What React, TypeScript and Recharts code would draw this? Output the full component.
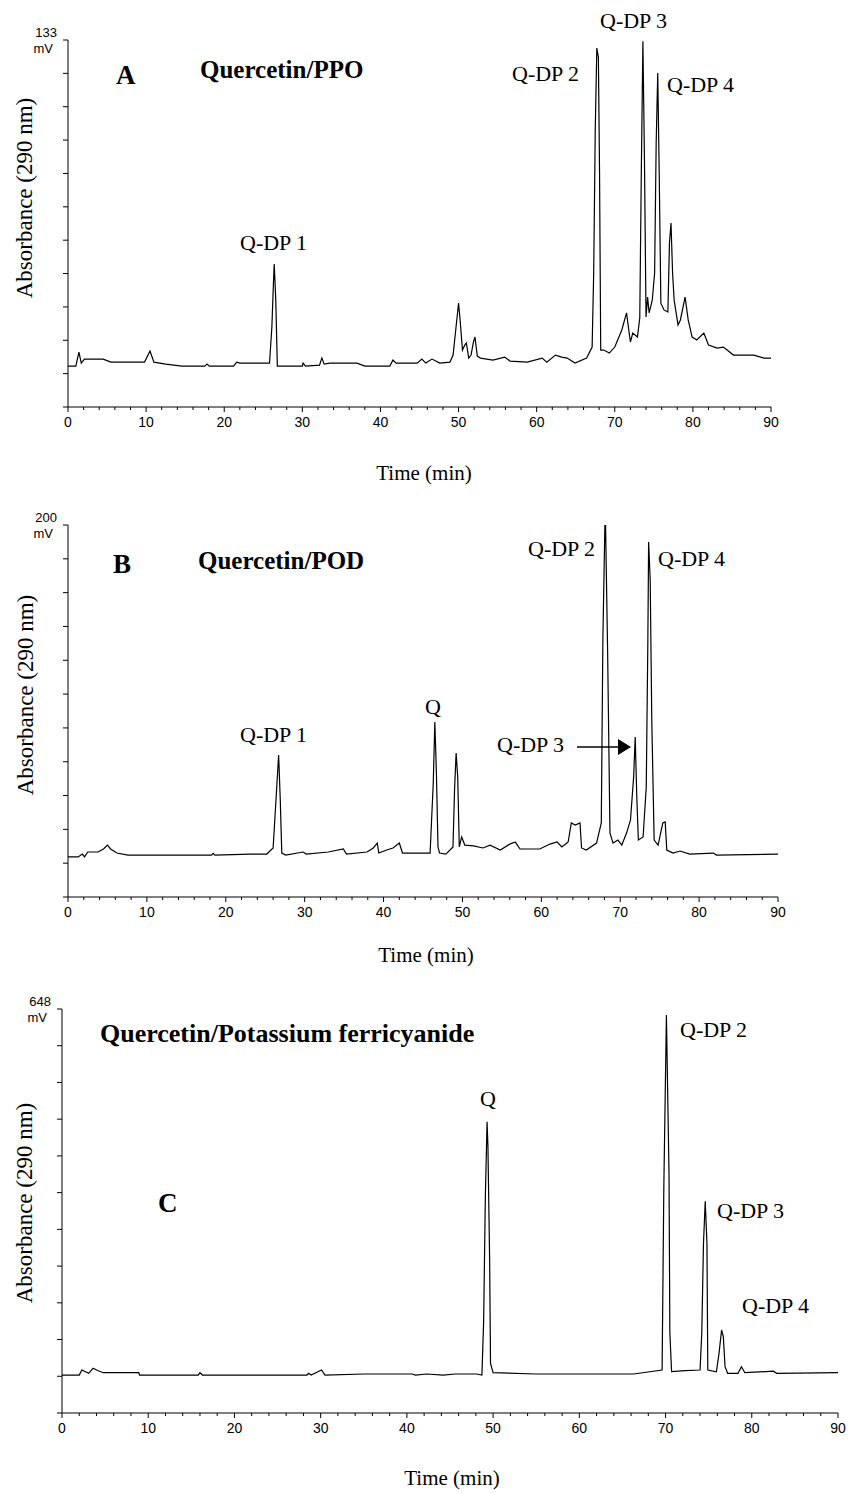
import React from "react";
import { LineChart, Line, XAxis, YAxis } from "recharts";

// chromatogram A : quercetin / PPO
const timeA = [
  0, 1.0, 1.4, 1.7, 2.1, 4.5, 5.5, 9.8, 10.5, 11.0, 12.5, 14.6, 17.5, 17.8, 18.1, 21.2, 21.6, 22.0,
  25.8, 26.1, 26.3, 26.4, 26.6, 26.8, 30.0, 30.1, 30.4, 32.2, 32.5, 32.8, 33.5, 37.0, 38.0, 41.2,
  41.6, 42.0, 44.7, 45.3, 45.8, 46.6, 47.6, 48.9, 49.3, 49.8, 50.0, 50.2, 50.5, 50.8, 51.0, 51.3,
  51.6, 51.9, 52.1, 52.4, 52.8, 54.4, 55.9, 56.6, 58.8, 60.7, 61.3, 62.4, 63.2, 63.9, 64.9, 66.4,
  67.1, 67.3, 67.5, 67.7, 67.9, 68.05, 68.2, 68.6, 69.3, 70.0, 70.9, 71.5, 72.0, 72.3, 72.9, 73.2,
  73.4, 73.6, 73.8, 74.0, 74.2, 74.4, 74.8, 75.1, 75.3, 75.5, 75.7, 75.9, 76.3, 76.8, 77.0, 77.2,
  77.4, 77.6, 78.1, 78.4, 79.0, 79.4, 79.9, 80.5, 81.4, 82.0, 83.1, 83.9, 85.2, 87.8, 89.1, 90,
];
const absA = [
  3.0, 3.0, 8.6, 4.2, 5.8, 5.8, 4.6, 4.6, 9.0, 4.6, 3.8, 3.0, 3.0, 3.8, 3.0, 3.0, 4.6, 4.2,
  4.2, 18.6, 36.1, 43.7, 29.3, 3.0, 3.0, 4.2, 3.0, 3.4, 6.2, 3.8, 4.2, 4.2, 3.0, 3.0,
  5.4, 4.2, 4.2, 5.8, 4.2, 5.8, 4.2, 4.6, 7.4, 22.2, 28.1, 21.4, 9.4, 11.4, 12.2, 6.2,
  7.4, 12.6, 14.6, 7.0, 6.2, 5.4, 6.6, 5.0, 4.6, 6.2, 4.6, 7.4, 6.6, 6.2, 4.2, 6.2,
  10.6, 40.1, 97.1, 129.8, 126.2, 80, 9.4, 9.4, 8.2, 10.6, 17.4, 24.2, 12.6, 16.2, 14.6, 22.2,
  81.2, 132.5, 85.1, 22.6, 30.5, 24.2, 29.3, 40.1, 91.9, 119.8, 77.2, 28.1, 25.4, 24.6, 52.1, 60.0,
  40.1, 29.3, 19.4, 21.4, 30.5, 21.4, 14.6, 13.4, 16.2, 11.4, 10.2, 10.6, 7.4, 7.4, 6.2, 6.2,
];

// chromatogram B : quercetin / POD
const timeB = [
  0, 1.3, 1.8, 2.1, 2.5, 3.8, 4.5, 5.0, 5.4, 6.2, 7.6, 18.2, 18.4, 18.6, 23.1, 25.2, 26.0, 26.4,
  26.7, 26.9, 27.1, 27.6, 29.8, 30.2, 33.0, 34.9, 35.3, 37.9, 38.7, 39.2, 39.4, 40.4, 41.2, 42.0,
  42.4, 45.9, 46.3, 46.5, 46.7, 46.9, 47.1, 47.9, 48.8, 49.0, 49.2, 49.4, 49.6, 49.9, 50.3, 51.4,
  52.6, 53.5, 54.8, 56.0, 56.7, 57.3, 59.8, 61.1, 62.0, 62.6, 63.4, 63.8, 64.3, 64.9, 65.1, 65.7,
  67.0, 67.6, 67.8, 68.1, 68.4, 68.7, 69.1, 69.7, 70.2, 70.8, 71.3, 71.7, 71.9, 72.1, 72.3, 72.9,
  73.3, 73.5, 73.6, 73.8, 74.0, 74.3, 74.8, 75.4, 75.7, 75.9, 76.7, 77.6, 78.8, 81.8, 82.2, 90,
];
const absB = [
  3.7, 3.7, 5.4, 3.7, 6.6, 6.6, 8.4, 10.7, 8.4, 6.0, 4.8, 4.8, 5.8, 4.8, 5.4, 5.4, 9.0, 40.3,
  64.0, 38.5, 6.0, 4.8, 6.6, 5.4, 6.6, 8.4, 5.4, 6.6, 9.0, 11.9, 6.0, 7.8, 9.0, 11.9,
  6.0, 6.0, 47.4, 83.5, 53.3, 9.6, 6.0, 5.4, 9.6, 43.3, 65.2, 51.0, 9.6, 15.5, 10.7, 10.2,
  9.0, 10.7, 7.8, 11.3, 12.5, 8.4, 8.4, 11.3, 12.5, 9.6, 12.5, 23.8, 22.6, 23.8, 9.0, 7.8,
  11.9, 23.8, 132, 212, 126, 17.8, 11.9, 13.7, 10.7, 17.8, 25.5, 51.0, 74.6, 39.1, 13.7, 15.5,
  45.0, 130, 190, 167.5, 84.7, 13.7, 10.7, 23.8, 24.4, 7.8, 6.0, 7.2, 5.4, 6.0, 4.8, 5.4,
];

// chromatogram C : quercetin / potassium ferricyanide
const timeC = [
  0, 2.0, 2.3, 3.1, 3.6, 4.2, 4.8, 8.9, 9.0, 15.8, 16.0, 16.3, 28.4, 28.6, 28.9, 30.1, 30.5, 35.1,
  40.6, 41.0, 42.3, 44.2, 45.6, 48.1, 48.7, 48.9, 49.1, 49.3, 49.4, 49.6, 49.7, 50.0, 55.0, 60.0,
  66.3, 69.6, 69.8, 70.1, 70.4, 70.5, 70.7, 72.3, 74.0, 74.2, 74.4, 74.6, 74.8, 74.9, 75.9, 76.2,
  76.5, 76.7, 76.9, 77.2, 78.4, 78.8, 79.2, 82.5, 82.9, 90,
];
const absC = [
  2.2, 2.2, 11.1, 5.2, 14.1, 9.8, 6.3, 6.3, 2.2, 2.2, 6.3, 2.2, 2.2, 5.2, 2.2, 11.1, 2.2, 4.0,
  4.0, 2.2, 4.0, 2.2, 4.0, 4.0, 2.2, 96, 316.8, 449, 405, 202, 22.9, 6.3, 4.0, 4.0,
  4.0, 11.1, 334.5, 637.4, 358, 76, 8.1, 9.8, 11.0, 75.8, 234.6, 308.8, 234.6, 11.0, 8.0, 40.5,
  81.6, 70, 16.9, 5.2, 5.2, 16.9, 6.3, 9, 5.2, 6.3,
];

const xTicks = [
  0, 2, 4, 6, 8, 10, 12, 14, 16, 18, 20, 22, 24, 26, 28, 30, 32, 34, 36, 38, 40, 42, 44, 46,
  48, 50, 52, 54, 56, 58, 60, 62, 64, 66, 68, 70, 72, 74, 76, 78, 80, 82, 84, 86, 88, 90,
];
const yTicksA = [-13.3, 0, 13.3, 26.6, 39.9, 53.2, 66.5, 79.8, 93.1, 106.4, 119.7, 133];
const yTicksB = [-20, 0, 20, 40, 60, 80, 100, 120, 140, 160, 180, 200];
const yTicksC = [-64.8, 0, 64.8, 129.6, 194.4, 259.2, 324, 388.8, 453.6, 518.4, 583.2, 648];

const SERIF = "'Liberation Serif', 'Times New Roman', serif";
const SANS = "'Liberation Sans', Arial, sans-serif";

const XTick = (props: any) => {
  const { x, y, payload } = props;
  const v = payload.value;
  const major = v % 10 === 0;
  return (
    <g>
      <line x1={x} x2={x} y1={y} y2={y + (major ? 5 : 3)} stroke="#000" />
      {major && (
        <text x={x} y={y + 20} textAnchor="middle" fontFamily={SANS} fontSize={14} fill="#000">
          {v}
        </text>
      )}
    </g>
  );
};

const makeYTick = (top: number) => (props: any) => {
  const { x, y, payload } = props;
  const isTop = Math.abs(payload.value - top) < 1e-6;
  return (
    <g>
      <line x1={x - 5} x2={x} y1={y} y2={y} stroke="#000" />
      {isTop && (
        <>
          <text x={x - 11} y={y - 3} textAnchor="end" fontFamily={SANS} fontSize={13} fill="#000">
            {top}
          </text>
          <text x={x - 15} y={y + 13} textAnchor="end" fontFamily={SANS} fontSize={13} fill="#000">
            mV
          </text>
        </>
      )}
    </g>
  );
};

type PanelProps = {
  times: number[];
  values: number[];
  yTicks: number[];
  top: number;
  height: number;
  margin: { top: number; right: number; bottom: number; left: number };
};

// axis boxes are 1px so recharts still draws them; margins are trimmed by 1 to compensate
const Panel: React.FC<PanelProps> = ({ times, values, yTicks, top, height, margin }) => {
  const rows = times.map((t, i) => ({ t, v: values[i] }));
  const yMax = yTicks[yTicks.length - 1];
  return (
    <div style={{ position: "absolute", left: 0, top }}>
      <LineChart width={848} height={height} data={rows} margin={margin}>
        <XAxis
          type="number"
          dataKey="t"
          domain={[0, 90]}
          ticks={xTicks}
          interval={0}
          tick={XTick}
          tickLine={false}
          tickSize={0}
          tickMargin={0}
          height={1}
          axisLine={{ stroke: "#000" }}
          allowDataOverflow
        />
        <YAxis
          type="number"
          domain={[yTicks[0], yMax]}
          ticks={yTicks}
          interval={0}
          tick={makeYTick(yMax)}
          tickLine={false}
          tickSize={0}
          tickMargin={0}
          width={1}
          axisLine={{ stroke: "#000" }}
          allowDataOverflow
        />
        <Line
          type="linear"
          dataKey="v"
          stroke="#000"
          strokeWidth={1.2}
          dot={false}
          isAnimationActive={false}
        />
      </LineChart>
    </div>
  );
};

const Label = ({ x, y, children, size = 22, bold = false }: any) => (
  <text x={x} y={y} fontFamily={SERIF} fontSize={size} fontWeight={bold ? "bold" : "normal"} fill="#000">
    {children}
  </text>
);

const YTitle = ({ x, y }: { x: number; y: number }) => (
  <text
    transform={`translate(${x},${y}) rotate(-90)`}
    textAnchor="middle"
    dominantBaseline="central"
    fontFamily={SERIF}
    fontSize={23}
    fill="#000"
  >
    Absorbance (290 nm)
  </text>
);

const XTitle = ({ x, y }: { x: number; y: number }) => (
  <text x={x} y={y} textAnchor="middle" dominantBaseline="central" fontFamily={SERIF} fontSize={21} fill="#000">
    Time (min)
  </text>
);

export default function App() {
  return (
    <div style={{ position: "absolute", left: 0, top: 0, width: 848, height: 1494, background: "#fff" }}>
      <Panel times={timeA} values={absA} yTicks={yTicksA} top={0} height={490}
        margin={{ top: 40, right: 77, bottom: 82, left: 67 }} />
      <Panel times={timeB} values={absB} yTicks={yTicksB} top={490} height={490}
        margin={{ top: 35, right: 70, bottom: 82, left: 67 }} />
      <Panel times={timeC} values={absC} yTicks={yTicksC} top={980} height={514}
        margin={{ top: 29, right: 10, bottom: 80, left: 61 }} />

      <svg width={848} height={1494} style={{ position: "absolute", left: 0, top: 0, pointerEvents: "none" }}>
        {/* panel A */}
        <Label x={116} y={84} size={27} bold>A</Label>
        <Label x={200} y={78} size={25} bold>Quercetin/PPO</Label>
        <Label x={240} y={250}>Q-DP 1</Label>
        <Label x={512} y={81}>Q-DP 2</Label>
        <Label x={600} y={28}>Q-DP 3</Label>
        <Label x={667} y={92}>Q-DP 4</Label>
        <YTitle x={24} y={198} />
        <XTitle x={424} y={473} />

        {/* panel B */}
        <Label x={113} y={573} size={27} bold>B</Label>
        <Label x={198} y={569} size={25} bold>Quercetin/POD</Label>
        <Label x={240} y={742}>Q-DP 1</Label>
        <Label x={425} y={714}>Q</Label>
        <Label x={528} y={556}>Q-DP 2</Label>
        <Label x={658} y={566}>Q-DP 4</Label>
        <Label x={497} y={752}>Q-DP 3</Label>
        <line x1={577} x2={619} y1={747} y2={747} stroke="#000" strokeWidth={1.5} />
        <path d="M618,739 L631,747 L618,755 Z" fill="#000" />
        <YTitle x={25} y={695} />
        <XTitle x={426} y={955} />

        {/* panel C */}
        <Label x={100} y={1042} size={26} bold>Quercetin/Potassium ferricyanide</Label>
        <Label x={158} y={1212} size={27} bold>C</Label>
        <Label x={480} y={1106}>Q</Label>
        <Label x={680} y={1037}>Q-DP 2</Label>
        <Label x={717} y={1218}>Q-DP 3</Label>
        <Label x={742} y={1313}>Q-DP 4</Label>
        <YTitle x={24} y={1203} />
        <XTitle x={452} y={1478} />
      </svg>
    </div>
  );
}
